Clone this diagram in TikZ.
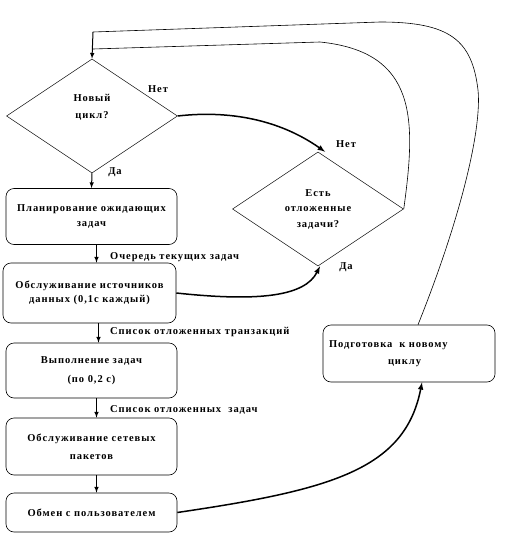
\documentclass[tikz,border=0pt]{standalone}
\usepackage{fontspec}
\setmainfont{Liberation Serif}[LetterSpace=9]
\usetikzlibrary{shapes.geometric}
\usetikzlibrary{positioning}
\usetikzlibrary{arrows}
\usetikzlibrary{calc}

\newcommand{\lifted}[2]{\raisebox{#1}[0pt][0pt]{\begin{tabular}{@{}c@{}}#2\end{tabular}}}

\tikzset{
  decision/.style={diamond, draw, line width=0.5pt, inner sep=0pt,
    minimum width=171pt, minimum height=114pt, align=center,
    font=\fontsize{10.5}{15.5}\selectfont\bfseries},
  block/.style={rectangle, rounded corners=8pt, draw, line width=0.6pt,
    minimum width=171pt, minimum height=56pt, align=center,
    font=\fontsize{10.5}{15}\selectfont\bfseries},
  lbl/.style={inner sep=0pt, font=\fontsize{10.5}{13}\selectfont\bfseries},
  flow/.style={-latex, line width=1pt},
  curved/.style={-latex, line width=1.5pt},
  back/.style={line width=0.6pt},
}

\begin{document}
\begin{tikzpicture}[x=1pt, y=-1pt]
\useasboundingbox (0,0) rectangle (511,535);

%---------------------------------------
% Left column
%---------------------------------------
\node[decision, font=\fontsize{10.5}{17}\selectfont\bfseries] (newcycle) at (92,116) {\lifted{7pt}{Новый\\цикл?}};
\node[block] (plan) at (91.5,216.5) {Планирование ожидающих\\задач};
\node[block, minimum width=173pt, minimum height=60pt,
  font=\fontsize{10.5}{13.5}\selectfont\bfseries] (serve) at (89.5,293) {Обслуживание источников\\данных (0,1с каждый)};
\node[block, minimum height=55pt,
  font=\fontsize{10.5}{19}\selectfont\bfseries] (exec) at (91.5,370.5) {Выполнение задач\\(по 0,2 с)};
\node[block, minimum height=57pt,
  font=\fontsize{10.5}{18}\selectfont\bfseries] (net) at (91.5,446.5) {Обслуживание сетевых\\пакетов};
\node[block, minimum height=39pt] (user) at (91.5,512.5) {Обмен с пользователем};

% labels on the column
\node[lbl] (no1) at (158,89) {Нет};
\node[lbl] (yes1) at (115,172) {Да};
\node[lbl, anchor=west] (queue) at (110,257) {Очередь текущих задач};
\node[lbl, anchor=west] (trans) at (110,332) {Список отложенных транзакций};
\node[lbl, anchor=west] (tasks) at (110,410) {Список отложенных\ \ задач};

%---------------------------------------
% Right part
%---------------------------------------
\node[decision] (pending) at (318,209) {Есть\\отложенные\\задачи?};
\node[lbl] (no2) at (346,144) {Нет};
\node[lbl] (yes2) at (346,267) {Да};

\node[block, minimum width=172pt, minimum height=57pt, text width=160pt, align=left,
  font=\fontsize{10.5}{17}\selectfont\bfseries] (prep) at (409,353.5)
  {Подготовка\ \ к новому\\\hspace*{59pt}циклу};

\coordinate (top) at (93,32);
\coordinate (join) at (93,49);

% Column arrows
\draw[flow] (newcycle.south) -- (plan.north);
\draw[flow] ([xshift=5pt]plan.south) -- ([xshift=5pt]plan.south |- serve.north);
\draw[flow] ([xshift=9pt]serve.south) -- ([xshift=9pt]serve.south |- exec.north);
\draw[flow] ([xshift=5pt]exec.south) -- ([xshift=5pt]exec.south |- net.north);
\draw[flow] ([xshift=5pt]net.south) -- ([xshift=5pt]net.south |- user.north);

% Curved arrows
\draw[curved] (newcycle.east) .. controls (230,110) and (280,120) .. ([xshift=7pt]pending.north);
\draw[curved] (serve.east) .. controls (260,302) and (305,296) .. ([xshift=2pt]pending.south);
\draw[curved] (user.east) .. controls (330,490) and (405,470) .. ([xshift=13pt]prep.south);

% Return lines
\draw[back] (pending.east) .. controls (416,120) and (418,52) .. (320,42) -- (join);
\draw[back] ([xshift=9pt]prep.north) .. controls (460,220) and (482,130) .. (478,90)
  .. controls (472,40) and (450,22) .. (380,22) -- (top);
\draw[flow] (top) -- (newcycle.north);

\end{tikzpicture}
\end{document}
